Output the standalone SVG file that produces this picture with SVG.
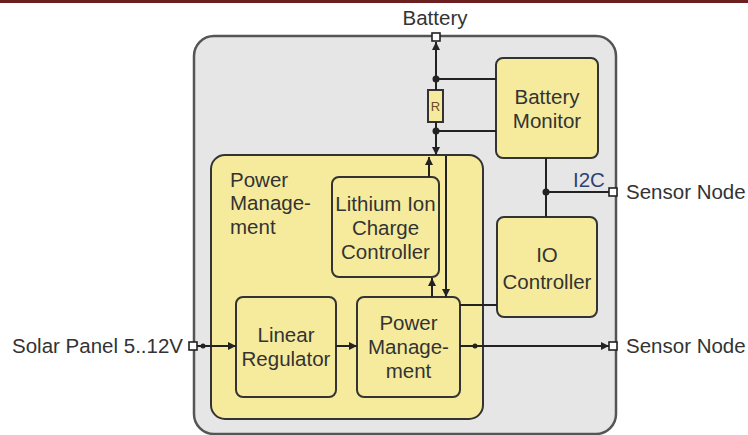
<svg xmlns="http://www.w3.org/2000/svg" width="748" height="435" viewBox="0 0 748 435">
<style>
text{font-family:"Liberation Sans",Arial,sans-serif;font-size:20.5px;fill:#333}
.c{text-anchor:middle}
.box{fill:#f6eb9d;stroke:#333;stroke-width:2}
.ln{fill:none;stroke:#222;stroke-width:2}
.term{fill:#fff;stroke:#222;stroke-width:1.6}
.dot{fill:#222}
</style>
<defs>
<marker id="ah" viewBox="0 0 8 8" refX="8" refY="4" markerWidth="8" markerHeight="8" markerUnits="userSpaceOnUse" orient="auto">
<path d="M0,0 L8,4 L0,8 z" fill="#222"/>
</marker>
</defs>
<rect x="0" y="0" width="748" height="3" fill="#6b1f1f"/>
<g id="system">
<rect x="194" y="36" width="422" height="398" rx="20" fill="#e6e6e6" stroke="#555" stroke-width="2.5"/>
</g>
<g id="power-management-group">
<rect x="211" y="155" width="272" height="264" rx="14" class="box"/>
<text x="230" y="187">Power</text>
<text x="230" y="210">Manage-</text>
<text x="230" y="234">ment</text>
</g>
<g id="charge-controller">
<rect x="332" y="177" width="107" height="100" rx="7" class="box"/>
<text class="c" x="385.5" y="211">Lithium Ion</text>
<text class="c" x="385.5" y="235">Charge</text>
<text class="c" x="385.5" y="259">Controller</text>
</g>
<g id="linear-regulator">
<rect x="236" y="297" width="100" height="100" rx="7" class="box"/>
<text class="c" x="286" y="342">Linear</text>
<text class="c" x="286" y="366">Regulator</text>
</g>
<g id="power-management">
<rect x="357" y="297" width="103" height="100" rx="7" class="box"/>
<text class="c" x="408.5" y="330">Power</text>
<text class="c" x="408.5" y="354">Manage-</text>
<text class="c" x="408.5" y="378">ment</text>
</g>
<g id="battery-monitor">
<rect x="496" y="58" width="102" height="100" rx="7" class="box"/>
<text class="c" x="547" y="104">Battery</text>
<text class="c" x="547" y="128">Monitor</text>
</g>
<g id="io-controller">
<rect x="497" y="217" width="100" height="100" rx="7" class="box"/>
<text class="c" x="547" y="262">IO</text>
<text class="c" x="547" y="289">Controller</text>
</g>
<g id="resistor">
<rect x="428" y="90" width="15" height="32" class="box" stroke-width="1.8"/>
<text class="c" x="435.5" y="111" style="font-size:13px;fill:#6a4a2a">R</text>
</g>
<g id="connectors">
<path class="ln" d="M436,79 V42" marker-end="url(#ah)"/>
<path class="ln" d="M436,79 V90 M436,122 V131"/>
<path class="ln" d="M436,131 V155" marker-end="url(#ah)"/>
<path class="ln" d="M436,79 H496 M436,131 H496"/>
<path class="ln" d="M429,177 V157" marker-end="url(#ah)"/>
<path class="ln" d="M446,156 V297" marker-end="url(#ah)"/>
<path class="ln" d="M432,297 V278" marker-end="url(#ah)"/>
<path class="ln" d="M546,158 V217 M546,192 H609"/>
<path class="ln" d="M460,305 H497"/>
<path class="ln" d="M197,346 H236" marker-end="url(#ah)"/>
<path class="ln" d="M336,346 H357" marker-end="url(#ah)"/>
<path class="ln" d="M460,346 H609" marker-end="url(#ah)"/>
<circle class="dot" cx="436" cy="79" r="3.5"/>
<circle class="dot" cx="436" cy="131" r="3.5"/>
<circle class="dot" cx="546" cy="192" r="3.5"/>
<circle class="dot" cx="203" cy="346" r="2.5"/>
<circle class="dot" cx="475" cy="346" r="2.5"/>
</g>
<g id="terminals">
<rect class="term" x="432" y="33" width="8" height="8"/>
<rect class="term" x="609" y="188" width="8" height="8"/>
<rect class="term" x="609" y="342" width="8" height="8"/>
<rect class="term" x="189" y="342" width="8" height="8"/>
</g>
<g id="labels">
<text class="c" x="435" y="25">Battery</text>
<text x="573" y="187" style="fill:#2e4272">I2C</text>
<text x="626" y="199">Sensor Node</text>
<text x="626" y="353">Sensor Node</text>
<text x="183" y="353" style="text-anchor:end">Solar Panel 5..12V</text>
</g>
</svg>
